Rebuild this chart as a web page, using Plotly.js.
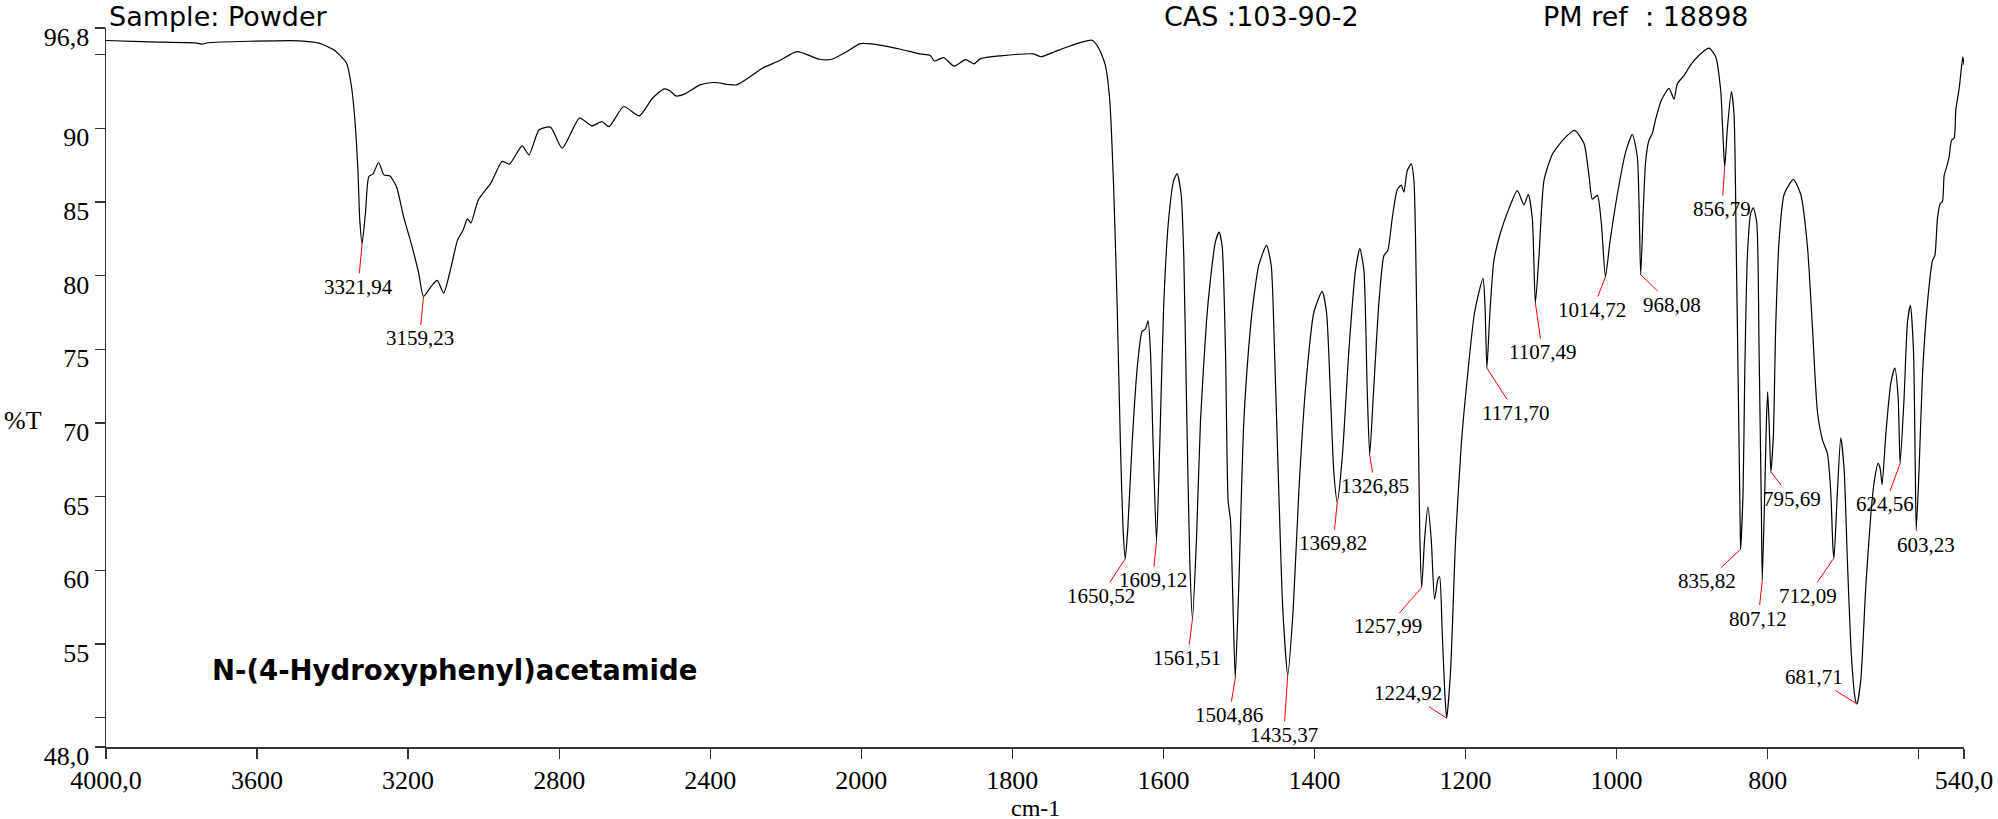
<!DOCTYPE html>
<html>
<head>
<meta charset="utf-8">
<script src="https://cdn.plot.ly/plotly-3.0.1.min.js"></script>
<style>
html,body{margin:0;padding:0;background:#fff;}
#chart{width:1998px;height:819px;}
</style>
</head>
<body>
<div id="chart"></div>
<script>
// ---- data (wavenumber cm-1, %T) ----
const wavenumber = [
4000,3884,3760,3745,3730,3620,3488,3436,3396,3363,3350,3341,3333,3328,3321.94,3313,3304,3293,3278,3264,3249,3231,3212,3192,3172,3159.23,3139,3123,3106,3086,3069,3054,3043,3034,3014,2981,2951,2932,2898,2880,2853,2823,2792,2746,2713,2687,2668,2629,2588,2553,2522,2506,2491,2467,2427,2388,2331,2262,2216,2170,2111,2078,2038,2005,
1997,1970,1948,1922,1909,1903,1891,1877,1862,1851,1842,1816,1772,1762,1745,1732,1710,1694.5,1685.6,1677,1671,1666,1661.3,1656.9,1653.4,1650.52,1647.2,1641.5,1634.8,1628.2,1623.8,1620.3,1617.2,1613.6,1609.12,1604.8,1599.5,1592.9,1586.3,1581.8,1576.5,1573,1569.5,1565,1561.51,1556.2,1550.9,1543,1537.7,1531.1,1526.2,1522.2,1517.8,1514.3,1511.2,1507.7,1504.86,1500.2,1493.5,1484.7,1480.3,1473.7,1463.5,1457.3,1452.9,1447.2,1441.9,1435.37,1428.2,1420.7,1411.8,1400.8,1389.8,1384,1378.7,1374.3,1369.82,1363.3,1354.4,1345.6,1339.9,1334.6,1330.2,1326.85,1322.2,1314.7,1308.1,1302.8,1297,1290.4,1285.1,1281.6,1277.2,1271.9,1268.3,1265.2,1263,1260.4,1257.99,1254.2,1249.8,1245.4,1241,1236.5,1234.3,1230.8,1227.3,1224.92,1219.8,1213.1,1205.6,1197.7,1188,1176.9,1174.3,1171.7,1167.7,1162.4,1153.5,1142.5,1131.4,1122.6,1116.9,1111.6,1107.49,1102.7,1096.1,1085.1,1069.6,1055.5,1043.1,1036.5,1032.1,1025.5,1020.2,1014.72,1008.7,999,988,979.1,972.5,968.08,964.6,961.5,957.1,952.6,948.2,940.7,930.6,923.9,919.5,910.7,901.9,890.8,877.6,868.8,862.1,859,856.79,853.3,848,844.5,841.4,838.7,836.5,835.82,832.5,830.3,826.8,822.4,818.9,814.4,811.3,808.2,807.12,803.8,801.6,799.9,797.7,795.69,792.4,789.3,784.9,778.2,765.9,756.1,747.3,740.7,734.1,727.4,720.8,716.4,713.5,712.09,707.6,703.2,698.8,694.3,689,684,681.71,676.7,670,663.4,659,653.7,651.1,648.4,643.6,636.9,631.6,627.2,624.56,619.3,614.8,610.9,606.9,604.5,603.23,599.4,594.9,588.4,581.7,578.6,575.1,571.6,568.5,566.3,562.7,559.7,556.5,553,550.8,546.4,543.3,541.5,540
];
const transmittance = [
95.95,95.86,95.78,95.70,95.80,95.90,95.93,95.77,95.30,94.41,92.83,90.57,87.17,83.78,82.15,84.23,86.72,86.90,87.67,86.83,86.77,86.04,84.00,82.20,80.16,78.58,79.26,79.67,78.81,80.60,82.42,83.10,83.85,83.56,85.14,86.27,87.74,87.56,88.80,88.19,89.89,90.07,88.64,90.68,90.16,90.45,90.11,91.47,90.84,92.03,92.67,92.53,92.19,92.33,92.94,93.10,92.94,94.07,94.59,95.20,94.68,94.68,95.20,95.72,
95.75,95.59,95.36,95.04,94.95,94.56,94.79,94.21,94.66,94.37,94.72,94.91,95.04,94.85,95.17,95.43,95.81,95.97,95.43,94.30,91.9,86.14,78.13,68.53,62.77,60.78,62.77,68.53,73.65,76.21,76.37,76.92,74.93,68.53,61.96,68.53,78.13,83.9,86.46,86.91,85.5,81.3,71.73,60.5,56.68,62.1,70.13,76.85,79.74,82.3,82.94,81.98,74.93,64.69,63.41,57.32,52.68,58.92,70.13,76.5,78.5,80.7,82.04,80.7,74.93,65.33,57.32,52.9,57.32,65.33,72.37,77.49,78.93,77.49,71.73,66.61,64.62,67.57,74.93,80.38,81.82,80.38,72.37,67.82,71.73,78.13,81.34,81.72,83.9,85.82,86.14,85.66,87.1,87.58,86.46,79.41,71.73,62.12,58.83,62.1,64.3,62.1,58.03,59.4,59.56,55.72,51.56,49.96,53.16,62.12,68.53,73.01,77.49,79.8,78.13,73.72,77.49,81.02,82.94,84.54,85.76,84.8,85.5,83.9,78.13,81.34,86.46,88.22,89.28,89.85,88.96,86.78,85.18,85.44,83.58,79.9,82.3,85.5,88.38,89.57,88.06,80.06,84.54,87.74,89.18,89.66,90.62,91.9,92.7,91.97,93.02,93.57,94.3,94.95,95.43,94.85,92.54,89.34,87.36,89.98,92.48,90.94,81.34,71.73,63.73,61.42,65.33,73.33,81.34,84.22,84.6,83.58,74.93,63.73,59.3,65.33,70.13,72.1,69.49,66.67,69.17,76.53,82.3,85.5,86.52,85.5,81.98,76.53,70.77,68.85,67.89,65.33,61.48,60.84,65.33,68.98,66.93,60.52,54.12,51.24,50.92,52.52,58.92,63.73,65.97,67.25,66.93,65.81,69.17,72.69,73.72,71.73,67.25,71.73,76.85,77.97,74.93,66.93,62.76,66.93,73.33,78.13,81.02,81.34,83.9,84.86,85.02,86.78,87.42,88.06,89.18,89.34,91.26,92.7,94.15,94.85,94.3
];

// labelled peaks
const peakWn = [3321.94,3159.23,1650.52,1609.12,1561.51,1504.86,1435.37,1369.82,1326.85,1257.99,1224.92,1171.70,1107.49,1014.72,968.08,856.79,835.82,807.12,795.69,712.09,681.71,624.56,603.23];
const peakT  = [82.15,78.58,60.78,61.96,56.68,52.68,52.9,64.62,67.82,58.83,49.96,73.72,78.13,79.9,80.06,87.36,61.42,59.3,66.67,60.84,50.92,67.25,62.76];

// axis ticks
const xTickWn = [4000,3600,3200,2800,2400,2000,1800,1600,1400,1200,1000,800,600,540];
const xTickLabels = ['4000,0','3600','3200','2800','2400','2000','1800','1600','1400','1200','1000','800','','540,0'];
const yTickVals = [48,50,55,60,65,70,75,80,85,90,95,96.8];
const yTickLabels = ['48,0','','55','60','65','70','75','80','85','90','','96,8'];

// ---- label placement (pixel offsets of label centre from peak) ----
const labelOffsets = [[-4,43],[-4,42],[-24,37],[-4,39],[-5,39],[-6,37],[-4,60],[-4,41],[5,31],[-34,39],[-39,-25],[29,45],[7,49],[-13,33],[31,30],[-3,42],[-34,32],[-4,38],[21,27],[-26,38],[-43,-27],[-15,41],[10,15]];

// split-scale transform (PE style: 4000-2000 compressed x0.5)
function u(wn){ return wn >= 2000 ? (4000 - wn) / 2 : 1000 + (2000 - wn); }

const trace = {
  x: wavenumber.map(u),
  y: transmittance,
  type: 'scatter',
  mode: 'lines',
  line: {color: '#000', width: 1.2, shape: 'spline', smoothing: 0.6},
  hoverinfo: 'skip'
};

const serif = 'Liberation Serif';
const comic = 'DejaVu Sans';

const annotations = peakWn.map((w, i) => ({
  x: u(w), y: peakT[i], xref: 'x', yref: 'y',
  text: w.toFixed(2).replace('.', ','),
  showarrow: true, arrowhead: 0, arrowwidth: 1, arrowcolor: '#ff0000',
  ax: labelOffsets[i][0], ay: labelOffsets[i][1], standoff: 0,
  font: {family: serif, size: 21, color: '#000'}
}));

function px(xp){ return (xp - 106) / 1858; }
function py(yp){ return (747 - yp) / 719; }

annotations.push(
  {x: px(107), y: py(16), xref: 'paper', yref: 'paper', xanchor: 'left', yanchor: 'middle', showarrow: false,
   text: 'Sample: Powder', font: {family: comic, size: 27, color: '#000'}},
  {x: px(1162), y: py(16), xref: 'paper', yref: 'paper', xanchor: 'left', yanchor: 'middle', showarrow: false,
   text: 'CAS :103-90-2', font: {family: comic, size: 27, color: '#000'}},
  {x: px(1541), y: py(16), xref: 'paper', yref: 'paper', xanchor: 'left', yanchor: 'middle', showarrow: false,
   text: 'PM ref\u00a0\u00a0: 18898', font: {family: comic, size: 27, color: '#000'}},
  {x: px(454), y: py(670), xref: 'paper', yref: 'paper', xanchor: 'center', yanchor: 'middle', showarrow: false,
   text: '<b>N-(4-Hydroxyphenyl)acetamide</b>', font: {family: comic, size: 27.5, color: '#000'}},
  {x: px(23), y: py(420), xref: 'paper', yref: 'paper', xanchor: 'center', yanchor: 'middle', showarrow: false,
   text: '%T', font: {family: serif, size: 26, color: '#000'}},
  {x: px(1035), y: py(808), xref: 'paper', yref: 'paper', xanchor: 'center', yanchor: 'middle', showarrow: false,
   text: 'cm-1', font: {family: serif, size: 24, color: '#000'}}
);

const layout = {
  width: 1998, height: 819,
  margin: {l: 106, r: 34, t: 28, b: 72, pad: 0},
  paper_bgcolor: '#fff', plot_bgcolor: '#fff',
  font: {family: serif, size: 26, color: '#000'},
  showlegend: false,
  xaxis: {
    range: [0, u(540)], autorange: false,
    tickmode: 'array', tickvals: xTickWn.map(u), ticktext: xTickLabels,
    ticks: 'outside', ticklen: 10, tickwidth: 1.3, tickcolor: '#333',
    ticklabelstandoff: -1,
    showline: true, linecolor: '#333', linewidth: 1.5,
    showgrid: false, zeroline: false,
    tickfont: {family: serif, size: 26, color: '#000'}
  },
  yaxis: {
    range: [48, 96.8], autorange: false,
    tickmode: 'array', tickvals: yTickVals, ticktext: yTickLabels,
    ticks: 'outside', ticklen: 10, tickwidth: 1.3, tickcolor: '#333',
    ticklabelshift: 9,
    showline: true, linecolor: '#333', linewidth: 1.5,
    showgrid: false, zeroline: false,
    tickfont: {family: serif, size: 26, color: '#000'}
  },
  annotations: annotations
};

Plotly.newPlot('chart', [trace], layout, {displayModeBar: false, staticPlot: true});
</script>
</body>
</html>
